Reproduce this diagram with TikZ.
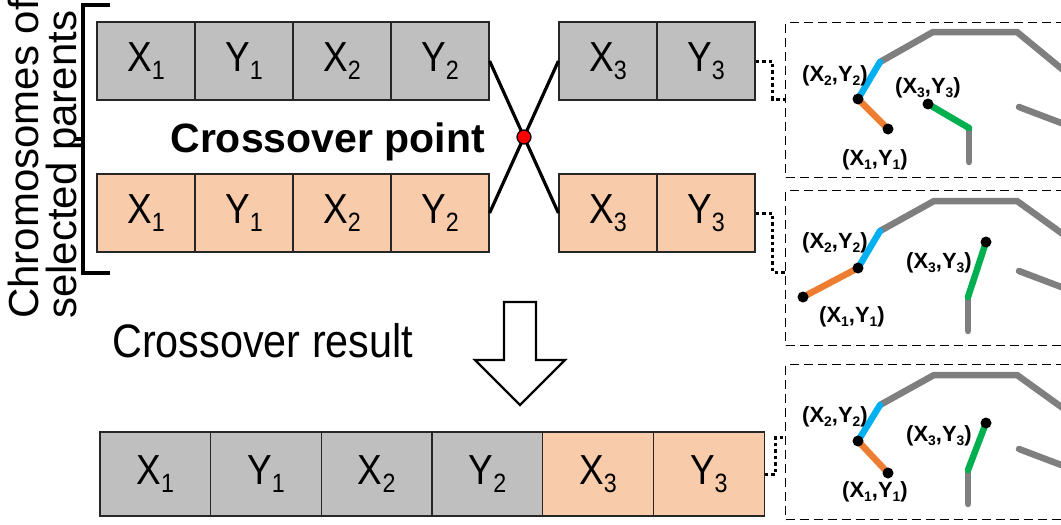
\documentclass[tikz,border=0pt]{standalone}
\usepackage{fontspec}
\setmainfont{Liberation Sans}
\newfontfamily\narrowsans[FakeStretch=0.88]{Liberation Sans}
\usetikzlibrary{calc}
\definecolor{genegray}{HTML}{BFBFBF}
\definecolor{geneorange}{HTML}{F8CBAA}
\definecolor{armgray}{HTML}{7F7F7F}
\definecolor{armblue}{HTML}{00B0F0}
\definecolor{armorange}{HTML}{ED7D31}
\definecolor{armgreen}{HTML}{00B050}
\def\lowsub#1{\raisebox{-.19em}{\scalebox{.63}{#1}}}
\def\genefont{\narrowsans\fontsize{42}{50}\selectfont}
\def\jointfont{\bfseries\fontsize{22}{26}\selectfont}
\def\drawarm{\draw[color=armgray, line width=6.5pt, line cap=round]}
\def\drawlink{\draw[line width=6.5pt, line cap=round]}
\def\jointnode{\node[circle,fill=black,inner sep=0pt,minimum size=11pt]}
\def\posnode{\node[font=\jointfont,inner sep=0pt]}

\begin{document}
\begin{tikzpicture}[x=1pt,y=-1pt,inner sep=0pt,
  gene/.style={draw=black!85, line width=1.2pt, minimum width=98pt, minimum height=78pt, font=\genefont},
  panel/.style={draw, dash pattern=on 9pt off 5pt, line width=1.2pt, minimum width=300pt, minimum height=155pt, anchor=north west},
  linkdots/.style={line width=3pt, dash pattern=on 3.5pt off 3pt},
  crossline/.style={line width=3.2pt}]
\useasboundingbox (0,0) rectangle (1061,525);

% ---------- the two parents
\node[gene, fill=genegray] (p1x1) at (146,61) {X\lowsub{1}};
\node[gene, fill=genegray] (p1y1) at ($ (p1x1) + (98,0) $) {Y\lowsub{1}};
\node[gene, fill=genegray] (p1x2) at ($ (p1y1) + (98,0) $) {X\lowsub{2}};
\node[gene, fill=genegray] (p1y2) at ($ (p1x2) + (98,0) $) {Y\lowsub{2}};
\node[gene, fill=genegray] (p1x3) at (608,61) {X\lowsub{3}};
\node[gene, fill=genegray] (p1y3) at ($ (p1x3) + (98,0) $) {Y\lowsub{3}};

\node[gene, fill=geneorange] (p2x1) at (146,213) {X\lowsub{1}};
\node[gene, fill=geneorange] (p2y1) at ($ (p2x1) + (98,0) $) {Y\lowsub{1}};
\node[gene, fill=geneorange] (p2x2) at ($ (p2y1) + (98,0) $) {X\lowsub{2}};
\node[gene, fill=geneorange] (p2y2) at ($ (p2x2) + (98,0) $) {Y\lowsub{2}};
\node[gene, fill=geneorange] (p2x3) at (608,213) {X\lowsub{3}};
\node[gene, fill=geneorange] (p2y3) at ($ (p2x3) + (98,0) $) {Y\lowsub{3}};

% bracket and its label
\draw[line width=3.2pt] (110,5) -- (83,5) -- (83,273) -- (110,273);
\draw[line width=3.2pt] (83,139) -- (74,139); % middle notch
\node[rotate=90, anchor=north west, align=left, font=\fontsize{42}{38}\selectfont] (parents) at (8,319) {Chromosomes of\\selected parents};

% ---------- the cut
\draw[crossline] (p1y2.east) to (p2x3.west);
\draw[crossline] (p2y2.east) to (p1x3.west);
\node[circle, fill=red, draw=black, line width=1.2pt, minimum size=14pt] (cut) at ($ (p1y2.east)!.5!(p2x3.west) $) {};
\node[anchor=base east, font=\bfseries\fontsize{41}{48}\selectfont] (cutlabel) at (485,152) {Crossover point};

% ---------- the child
\node[anchor=base west, font=\narrowsans\fontsize{47}{56}\selectfont] (result) at (112,357) {Crossover result};
\coordinate (arr) at (520,302); % top of the hollow arrow
\draw[line width=2.4pt] ($ (arr) + (-16,0) $) -- ($ (arr) + (16,0) $) -- ($ (arr) + (16,58) $) -- ($ (arr) + (45,58) $)
  -- ($ (arr) + (0,103) $) -- ($ (arr) + (-45,58) $) -- ($ (arr) + (-16,58) $) -- cycle;

\node[gene, fill=genegray, minimum width=110.7pt, minimum height=84pt] (cx1) at (155.3,474) {X\lowsub{1}};
\node[gene, fill=genegray, minimum width=110.7pt, minimum height=84pt] (cy1) at ($ (cx1) + (110.7,0) $) {Y\lowsub{1}};
\node[gene, fill=genegray, minimum width=110.7pt, minimum height=84pt] (cx2) at ($ (cy1) + (110.7,0) $) {X\lowsub{2}};
\node[gene, fill=genegray, minimum width=110.7pt, minimum height=84pt] (cy2) at ($ (cx2) + (110.7,0) $) {Y\lowsub{2}};
\node[gene, fill=geneorange, minimum width=110.7pt, minimum height=84pt] (cx3) at ($ (cy2) + (110.7,0) $) {X\lowsub{3}};
\node[gene, fill=geneorange, minimum width=110.7pt, minimum height=84pt] (cy3) at ($ (cx3) + (110.7,0) $) {Y\lowsub{3}};

% ---------- arm panels
\node[panel] (panelA) at (785,22) {};
\node[panel] (panelB) at (785,190) {};
\node[panel] (panelC) at (785,364) {};
\draw[linkdots] (p1y3.east) -- ++(17,0) |- ($ (panelA.north west) + (0,77) $);
\draw[linkdots] (p2y3.east) -- ++(17,0) |- ($ (panelB.north west) + (0,82) $);
\draw[linkdots] (cy3.east) -- ++(11,0) |- ($ (panelC.north west) + (0,73) $);

% -------- arm A ---------
% All coordinates are relative to the corner (o) of the panel.
\coordinate (o) at (panelA.north west);
\coordinate (shoulder) at ($ (o) + (95,40) $);
\coordinate (top_left) at ($ (o) + (148,10) $);
\coordinate (top_right) at ($ (o) + (232,10) $);
\coordinate (top_out) at ($ (o) + (300,66) $);
\coordinate (low_in) at ($ (o) + (234,85) $);
\coordinate (low_out) at ($ (o) + (300,110) $);
\coordinate (j1) at ($ (o) + (103,107) $);
\coordinate (j2) at ($ (o) + (73,77) $);
\coordinate (j3) at ($ (o) + (143,82) $);
\coordinate (elbow) at ($ (o) + (184,106) $);
\coordinate (base) at ($ (o) + (184,140) $);
\drawarm (shoulder) -- (top_left) -- (top_right) -- (top_out);
\drawarm (low_in) -- (low_out);
\drawarm (elbow) -- (base);
\drawlink[armblue] (shoulder) -- (j2);
\drawlink[armorange] (j2) -- (j1);
\drawlink[armgreen] (j3) -- (elbow);
\jointnode (aj1) at (j1) {};
\jointnode (aj2) at (j2) {};
\jointnode (aj3) at (j3) {};
\posnode (alab2) at ($ (o) + (50,54) $) {(X\lowsub{2},Y\lowsub{2})};
\posnode (alab1) at ($ (o) + (90,138) $) {(X\lowsub{1},Y\lowsub{1})};
\posnode (alab3) at ($ (o) + (143,66) $) {(X\lowsub{3},Y\lowsub{3})};
% ------ end arm A ------

% -------- arm B ---------
\coordinate (o) at (panelB.north west);
\coordinate (shoulder) at ($ (o) + (95,41) $);
\coordinate (top_left) at ($ (o) + (149,11) $);
\coordinate (top_right) at ($ (o) + (232,11) $);
\coordinate (top_out) at ($ (o) + (300,60) $);
\coordinate (low_in) at ($ (o) + (234,81) $);
\coordinate (low_out) at ($ (o) + (300,106) $);
\coordinate (j1) at ($ (o) + (18,107) $);
\coordinate (j2) at ($ (o) + (73,78) $);
\coordinate (j3) at ($ (o) + (201,52) $);
\coordinate (elbow) at ($ (o) + (183,107) $);
\coordinate (base) at ($ (o) + (183,141) $);
\drawarm (shoulder) -- (top_left) -- (top_right) -- (top_out);
\drawarm (low_in) -- (low_out);
\drawarm (elbow) -- (base);
\drawlink[armblue] (shoulder) -- (j2);
\drawlink[armorange] (j2) -- (j1);
\drawlink[armgreen] (j3) -- (elbow);
\jointnode (bj1) at (j1) {};
\jointnode (bj2) at (j2) {};
\jointnode (bj3) at (j3) {};
\posnode (blab2) at ($ (o) + (50,53) $) {(X\lowsub{2},Y\lowsub{2})};
\posnode (blab1) at ($ (o) + (67,127) $) {(X\lowsub{1},Y\lowsub{1})};
\posnode (blab3) at ($ (o) + (154,73) $) {(X\lowsub{3},Y\lowsub{3})};
% ------ end arm B ------

% -------- arm C ---------
\coordinate (o) at (panelC.north west);
\coordinate (shoulder) at ($ (o) + (95,41) $);
\coordinate (top_left) at ($ (o) + (149,11) $);
\coordinate (top_right) at ($ (o) + (232,11) $);
\coordinate (top_out) at ($ (o) + (300,60) $);
\coordinate (low_in) at ($ (o) + (234,85) $);
\coordinate (low_out) at ($ (o) + (300,110) $);
\coordinate (j1) at ($ (o) + (103,109) $);
\coordinate (j2) at ($ (o) + (73,77) $);
\coordinate (j3) at ($ (o) + (201,59) $);
\coordinate (elbow) at ($ (o) + (183,106) $);
\coordinate (base) at ($ (o) + (183,140) $);
\drawarm (shoulder) -- (top_left) -- (top_right) -- (top_out);
\drawarm (low_in) -- (low_out);
\drawarm (elbow) -- (base);
\drawlink[armblue] (shoulder) -- (j2);
\drawlink[armorange] (j2) -- (j1);
\drawlink[armgreen] (j3) -- (elbow);
\jointnode (cj1) at (j1) {};
\jointnode (cj2) at (j2) {};
\jointnode (cj3) at (j3) {};
\posnode (clab2) at ($ (o) + (50,53) $) {(X\lowsub{2},Y\lowsub{2})};
\posnode (clab1) at ($ (o) + (90,128) $) {(X\lowsub{1},Y\lowsub{1})};
\posnode (clab3) at ($ (o) + (154,72) $) {(X\lowsub{3},Y\lowsub{3})};
% ------ end arm C ------
\end{tikzpicture}
\end{document}
